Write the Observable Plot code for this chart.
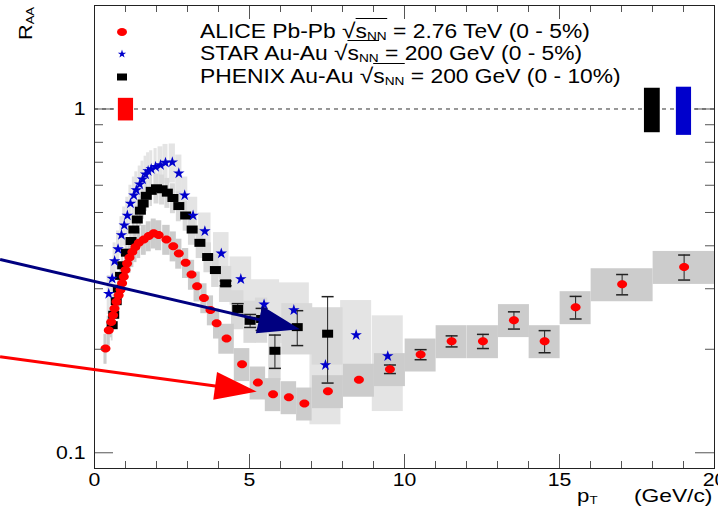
<!DOCTYPE html>
<html><head><meta charset="utf-8">
<script src="https://cdn.jsdelivr.net/npm/d3@7"></script>
<script src="https://cdn.jsdelivr.net/npm/@observablehq/plot@0.6"></script>
<style>
body{margin:0;background:#fff;}
#wrap{position:relative;width:718px;height:507px;font-family:"Liberation Sans",Arial,Helvetica,sans-serif;color:#000;overflow:hidden;}
#wrap > svg{position:absolute;left:0;top:0;}
.txt{position:absolute;white-space:nowrap;font-size:19.5px;line-height:1;}
.stretch{transform:scaleX(1.17);transform-origin:left center;display:inline-block;}
.ov{border-top:1.4px solid #000;padding-top:1px;}
.rad{font-size:21px;}
sub{font-size:0.6em;vertical-align:-0.2em;line-height:0;}
.mk{position:absolute;}
</style></head>
<body><div id="wrap"></div>
<script>
// ---------------- data ----------------
const aliceX = [0.355,0.46,0.54,0.60,0.645,0.71,0.78,0.84,0.89,0.945,1.0,1.05,1.13,1.22,1.32,1.43,1.59,1.75,1.91,2.07,2.32,2.54,2.72,2.94,3.13,3.31,3.53,3.74,3.94,4.26,4.76,5.27,5.76,6.27,6.77,7.53,8.53,9.53,10.52,11.52,12.53,13.53,14.52,15.52,17.02,19.02];
const aliceY = [0.201,0.227,0.240,0.251,0.263,0.275,0.287,0.298,0.311,0.325,0.340,0.355,0.370,0.384,0.397,0.408,0.417,0.427,0.435,0.430,0.417,0.399,0.380,0.357,0.330,0.305,0.282,0.260,0.238,0.215,0.181,0.160,0.148,0.145,0.139,0.151,0.163,0.175,0.193,0.211,0.211,0.243,0.211,0.265,0.309,0.347];
const aliceStat = [0,0,0,0,0,0,0,0,0,0,0,0,0,0,0,0,0,0,0,0,0,0,0,0,0,0,0,0,0,0,0,0,0,0,0,0,0,0.005,0.0065,0.0078,0.010,0.014,0.0156,0.020,0.021,0.029];
const aliceSysRel = [0.10,0.10,0.10,0.10,0.10,0.10,0.10,0.10,0.10,0.10,0.10,0.10,0.10,0.10,0.10,0.10,0.10,0.10,0.10,0.10,0.10,0.10,0.10,0.10,0.10,0.10,0.10,0.10,0.10,0.10,0.11,0.11,0.11,0.11,0.11,0.11,0.11,0.11,0.11,0.11,0.11,0.11,0.11,0.11,0.11,0.11];
const aliceHalfW = [0.05,0.05,0.04,0.03,0.03,0.04,0.04,0.03,0.03,0.03,0.03,0.04,0.05,0.05,0.05,0.06,0.08,0.08,0.08,0.1,0.12,0.1,0.1,0.1,0.1,0.1,0.1,0.1,0.1,0.25,0.25,0.25,0.25,0.25,0.25,0.5,0.5,0.5,0.5,0.5,0.5,0.5,0.5,0.5,1,1];

const starX = [0.46,0.57,0.65,0.76,0.87,0.96,1.06,1.16,1.27,1.35,1.46,1.55,1.65,1.73,1.83,1.97,2.13,2.29,2.51,2.72,2.91,3.18,3.56,4.09,4.72,5.47,6.43,7.45,8.44,9.46];
const starY = [0.290,0.321,0.361,0.391,0.430,0.459,0.490,0.531,0.561,0.581,0.604,0.624,0.645,0.660,0.669,0.679,0.687,0.698,0.700,0.650,0.561,0.490,0.441,0.380,0.320,0.270,0.260,0.180,0.220,0.191];
const starSysRel = [0.13,0.13,0.13,0.13,0.13,0.13,0.13,0.13,0.13,0.13,0.13,0.13,0.13,0.13,0.13,0.13,0.13,0.13,0.13,0.13,0.13,0.13,0.13,0.15,0.16,0.18,0.20,0.33,0.26,0.31];
const starHalfW = [0.05,0.05,0.05,0.05,0.05,0.05,0.05,0.05,0.05,0.05,0.05,0.05,0.05,0.05,0.05,0.05,0.08,0.08,0.1,0.1,0.1,0.15,0.2,0.25,0.35,0.5,0.5,0.5,0.5,0.5];

const phenixX = [0.57,0.62,0.70,0.77,0.84,0.91,1.03,1.18,1.27,1.38,1.48,1.57,1.67,1.83,2.0,2.18,2.35,2.53,2.72,2.94,3.15,3.40,3.65,3.90,4.23,4.62,5.02,5.39,5.82,6.54,7.52];
const phenixY = [0.235,0.252,0.276,0.300,0.327,0.351,0.382,0.413,0.446,0.477,0.506,0.531,0.559,0.578,0.588,0.584,0.571,0.551,0.522,0.490,0.446,0.408,0.371,0.340,0.311,0.262,0.242,0.245,0.198,0.232,0.222];
const phenixStat = [0,0,0,0,0,0,0,0,0,0,0,0,0,0,0,0,0,0,0,0,0,0,0,0,0.005,0.0095,0.0105,0.018,0.022,0.027,0.0625];
const phenixSysRel = [0.10,0.10,0.10,0.10,0.10,0.10,0.10,0.10,0.10,0.10,0.10,0.10,0.10,0.10,0.10,0.10,0.10,0.10,0.10,0.10,0.10,0.10,0.10,0.11,0.12,0.13,0.14,0.15,0.18,0.17,0.19];
const phenixHalfW = [0.03,0.03,0.03,0.03,0.03,0.03,0.04,0.04,0.04,0.04,0.04,0.04,0.04,0.04,0.08,0.08,0.08,0.08,0.08,0.08,0.12,0.12,0.12,0.12,0.2,0.2,0.2,0.2,0.2,0.5,0.5];

// normalisation uncertainty boxes at R_AA = 1
const normNames = ["ALICE","PHENIX","STAR"];
const normX1 = [0.77,17.74,18.77];
const normX2 = [1.26,18.25,19.26];
const normYlo = [0.923,0.853,0.838];
const normYhi = [1.074,1.149,1.157];

// annotation arrows (data units)
const arrowNames = ["navy","red"];
const arrowX1 = [-3.03,-3.03];
const arrowY1 = [0.364,0.1896];
const arrowX2 = [6.645,5.25];
const arrowY2 = [0.228,0.1502];

// axis ticks
const xMajorTicks = [0,5,10,15,20];
const xMinorTicks = [1,2,3,4,6,7,8,9,11,12,13,14,16,17,18,19];
const yMajorTicks = [0.1,1];
const yMinorTicks = [0.2,0.3,0.4,0.5,0.6,0.7,0.8,0.9,2];

const legendLabels = [
  ["ALICE Pb-Pb", "2.76 TeV (0 - 5%)"],
  ["STAR Au-Au", "200 GeV (0 - 5%)"],
  ["PHENIX Au-Au", "200 GeV (0 - 10%)"]
];

// ---------------- styles ----------------
const C = {alice:"#ff0000", star:"#0000cc", phenix:"#000000", navy:"#000080", red:"#ff0000",
  ALICE:"#ff0000", PHENIX:"#000000", STAR:"#0000cc"};

const W = 718, H = 507, mL = 94, mR = 4, mT = 5, mB = 39;
const innerW = W - mL - mR, innerH = H - mT - mB;

const rows = (xs, ys, extra) => xs.map((x, i) => {
  const o = {x, y: ys[i]};
  for (const k in extra) o[k] = extra[k][i];
  return o;
});
const alice = rows(aliceX, aliceY, {stat: aliceStat, sys: aliceSysRel, hw: aliceHalfW});
const star = rows(starX, starY, {sys: starSysRel, hw: starHalfW});
const phenix = rows(phenixX, phenixY, {stat: phenixStat, sys: phenixSysRel, hw: phenixHalfW});
const norm = normNames.map((n, i) => ({n, x1: normX1[i], x2: normX2[i], y1: normYlo[i], y2: normYhi[i]}));
const arrows = arrowNames.map((n, i) => ({n, x1: arrowX1[i], y1: arrowY1[i], x2: arrowX2[i], y2: arrowY2[i]}));

// custom symbols
const ellipse = (rx, ry) => ({draw(ctx) {
  const k = 0.5523;
  ctx.moveTo(rx, 0);
  ctx.bezierCurveTo(rx, ry*k, rx*k, ry, 0, ry);
  ctx.bezierCurveTo(-rx*k, ry, -rx, ry*k, -rx, 0);
  ctx.bezierCurveTo(-rx, -ry*k, -rx*k, -ry, 0, -ry);
  ctx.bezierCurveTo(rx*k, -ry, rx, -ry*k, rx, 0);
  ctx.closePath();
}});
const box = (w, h) => ({draw(ctx) { ctx.rect(-w/2, -h/2, w, h); }});
const cap = (w) => ({draw(ctx) { ctx.moveTo(-w/2, 0); ctx.lineTo(w/2, 0); }});

function arrowRender(index, scales, values, dimensions, context) {
  const g = d3.create("svg:g").attr("aria-label", "arrows");
  for (const a of arrows) {
    const x1 = scales.x(a.x1), y1 = scales.y(a.y1), x2 = scales.x(a.x2), y2 = scales.y(a.y2);
    const ang = Math.atan2(y2 - y1, x2 - x1);
    const L = 42, hw = 14;
    const bx = x2 - L*Math.cos(ang), by = y2 - L*Math.sin(ang);
    g.append("line").attr("x1", x1).attr("y1", y1).attr("x2", bx + 2*Math.cos(ang)).attr("y2", by + 2*Math.sin(ang))
      .attr("stroke", C[a.n]).attr("stroke-width", 3);
    g.append("path")
      .attr("d", `M${x2},${y2}L${bx - hw*Math.sin(ang)},${by + hw*Math.cos(ang)}L${bx + hw*Math.sin(ang)},${by - hw*Math.cos(ang)}Z`)
      .attr("fill", C[a.n]);
  }
  return g.node();
}

const errs = (data) => data.filter(d => d.stat > 0);
const tickColor = "#555";

const plot = Plot.plot({
  width: W, height: H,
  marginLeft: mL, marginRight: mR, marginTop: mT, marginBottom: mB,
  style: {fontFamily: '"Liberation Sans", Arial, sans-serif', background: "transparent"},
  x: {domain: [0, 20], label: null},
  y: {type: "log", domain: [0.09, 2], label: null},
  marks: [
    // systematic boxes
    Plot.rect(star, {x1: d => d.x - d.hw, x2: d => d.x + d.hw, y1: d => d.y*(1 - d.sys), y2: d => d.y*(1 + d.sys), fill: "#e4e4e4"}),
    Plot.rect(phenix, {x1: d => d.x - d.hw, x2: d => d.x + d.hw, y1: d => d.y*(1 - d.sys), y2: d => d.y*(1 + d.sys), fill: "#d9d9d9"}),
    Plot.rect(alice, {x1: d => d.x - d.hw, x2: d => d.x + d.hw, y1: d => d.y*(1 - d.sys), y2: d => d.y*(1 + d.sys), fill: "#cccccc"}),
    // dashed unity line
    Plot.ruleY([1], {stroke: "#333", strokeDasharray: "4,4", strokeWidth: 1}),
    // normalisation boxes
    Plot.rect(norm, {x1: "x1", x2: "x2", y1: "y1", y2: "y2", fill: d => C[d.n]}),
    // statistical error bars
    Plot.ruleX(errs(phenix), {x: "x", y1: d => d.y - d.stat, y2: d => d.y + d.stat, stroke: "#222"}),
    Plot.dot(errs(phenix), {x: "x", y: d => d.y - d.stat, symbol: cap(12), stroke: "#222", fill: "none", r: 1}),
    Plot.dot(errs(phenix), {x: "x", y: d => d.y + d.stat, symbol: cap(12), stroke: "#222", fill: "none", r: 1}),
    Plot.ruleX(errs(alice), {x: "x", y1: d => d.y - d.stat, y2: d => d.y + d.stat, stroke: "#222"}),
    Plot.dot(errs(alice), {x: "x", y: d => d.y - d.stat, symbol: cap(12), stroke: "#222", fill: "none", r: 1}),
    Plot.dot(errs(alice), {x: "x", y: d => d.y + d.stat, symbol: cap(12), stroke: "#222", fill: "none", r: 1}),
    // markers
    Plot.dot(phenix, {x: "x", y: "y", symbol: box(11, 8), fill: C.phenix, stroke: "none", r: 1}),
    Plot.dot(star, {x: "x", y: "y", symbol: "star", fill: C.star, stroke: "none", r: 3.6}),
    Plot.dot(alice, {x: "x", y: "y", symbol: ellipse(5, 4), fill: C.alice, stroke: "none", r: 1}),
    // ticks (ROOT style, inward)
    Plot.tickX(xMajorTicks, {x: d => d, stroke: tickColor, insetTop: innerH - 14}),
    Plot.tickX(xMinorTicks, {x: d => d, stroke: tickColor, insetTop: innerH - 7}),
    Plot.tickX(xMajorTicks, {x: d => d, stroke: tickColor, insetBottom: innerH - 14}),
    Plot.tickX(xMinorTicks, {x: d => d, stroke: tickColor, insetBottom: innerH - 7}),
    Plot.tickY(yMajorTicks, {y: d => d, stroke: tickColor, insetRight: innerW - 19}),
    Plot.tickY(yMinorTicks, {y: d => d, stroke: tickColor, insetRight: innerW - 9}),
    Plot.tickY(yMajorTicks, {y: d => d, stroke: tickColor, insetLeft: innerW - 19}),
    Plot.tickY(yMinorTicks, {y: d => d, stroke: tickColor, insetLeft: innerW - 9}),
    Plot.axisX({ticks: xMajorTicks, tickSize: 0, tickPadding: 4, fontSize: 19, label: null}),
    Plot.axisY({ticks: yMajorTicks, tickSize: 0, tickPadding: 9, fontSize: 19, tickFormat: d => String(d), label: null}),
    Plot.frame({stroke: "#222"}),
    // annotation arrows
    arrowRender
  ]
});

// widen tick labels horizontally like the reference's stretched text
plot.querySelectorAll('g[aria-label="x-axis tick label"] text, g[aria-label="y-axis tick label"] text').forEach(t => {
  const tr = t.getAttribute("transform");
  if (tr) t.setAttribute("transform", tr + " scale(1.12,1)");
  else {
    const x = +(t.getAttribute("x") || 0), y = +(t.getAttribute("y") || 0);
    t.removeAttribute("x"); t.removeAttribute("y");
    t.setAttribute("transform", `translate(${x},${y}) scale(1.12,1)`);
  }
});

const wrap = document.getElementById("wrap");
wrap.appendChild(plot);

// legend (HTML overlay inside the frame)
const legendTops = [20, 42, 65];
const legendMarkers = [
  `<svg width="14" height="12"><ellipse cx="7" cy="6" rx="5" ry="4" fill="${C.alice}"/></svg>`,
  `<svg width="14" height="12"><path transform="translate(7,6)" d="${d3.symbol(d3.symbolStar, 22)()}" fill="${C.star}"/></svg>`,
  `<svg width="14" height="12"><rect x="2" y="2.5" width="10" height="7" fill="${C.phenix}"/></svg>`
];
legendLabels.forEach((lab, i) => {
  const m = document.createElement("div");
  m.className = "mk";
  m.style.left = "115px"; m.style.top = (legendTops[i] + 4) + "px";
  m.innerHTML = legendMarkers[i];
  wrap.appendChild(m);
  const t = document.createElement("div");
  t.className = "txt";
  t.style.left = "200px"; t.style.top = legendTops[i] + "px";
  t.innerHTML = `<span class="stretch">${lab[0]} <span class="rad">√</span><span class="ov">s<sub>NN</sub></span> = ${lab[1]}</span>`;
  wrap.appendChild(t);
});

// axis titles
const yt = document.createElement("div");
yt.className = "txt";
yt.style.left = "16px"; yt.style.top = "40px";
yt.style.transformOrigin = "left top";
yt.style.transform = "rotate(-90deg)";
yt.innerHTML = `<span class="stretch" style="font-size:18.5px">R<sub>AA</sub></span>`;
wrap.appendChild(yt);

const xt1 = document.createElement("div");
xt1.className = "txt";
xt1.style.left = "577px"; xt1.style.top = "486px";
xt1.innerHTML = `<span class="stretch" style="font-size:19px">p<sub>T</sub></span>`;
wrap.appendChild(xt1);
const xt2 = document.createElement("div");
xt2.className = "txt";
xt2.style.right = "6px"; xt2.style.top = "486px";
xt2.innerHTML = `<span style="display:inline-block;transform:scaleX(1.2);transform-origin:right center;font-size:19px">(GeV/c)</span>`;
wrap.appendChild(xt2);
</script>
</body></html>
